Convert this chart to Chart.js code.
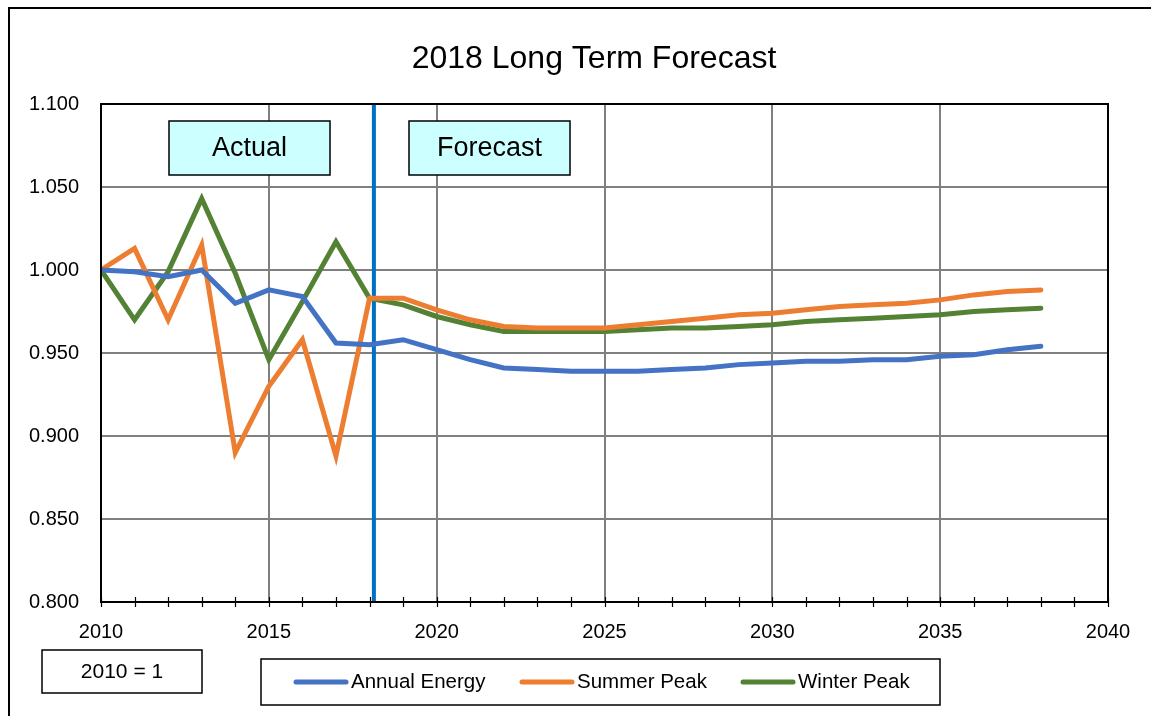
<!DOCTYPE html>
<html>
<head>
<meta charset="utf-8">
<script src="https://cdn.jsdelivr.net/npm/chart.js@4.4.1/dist/chart.umd.min.js"></script>
<style>
  html, body { margin: 0; padding: 0; background: #fff; }
  #wrap { width: 1151px; height: 716px; position: relative; }
</style>
</head>
<body>
<div id="wrap"><canvas id="chart" width="1151" height="716"></canvas></div>
<script>
// ── Data ───────────────────────────────────────────────────────
const years = [2010, 2011, 2012, 2013, 2014, 2015, 2016, 2017, 2018, 2019,
               2020, 2021, 2022, 2023, 2024, 2025, 2026, 2027, 2028, 2029,
               2030, 2031, 2032, 2033, 2034, 2035, 2036, 2037, 2038];

const annualEnergy = [1.000, 0.999, 0.996, 1.000, 0.980, 0.988, 0.984, 0.956, 0.955, 0.958,
                      0.952, 0.946, 0.941, 0.940, 0.939, 0.939, 0.939, 0.940, 0.941, 0.943,
                      0.944, 0.945, 0.945, 0.946, 0.946, 0.948, 0.949, 0.952, 0.954];

const summerPeak = [1.000, 1.013, 0.970, 1.015, 0.890, 0.930, 0.958, 0.888, 0.983, 0.983,
                    0.976, 0.970, 0.966, 0.965, 0.965, 0.965, 0.967, 0.969, 0.971, 0.973,
                    0.974, 0.976, 0.978, 0.979, 0.980, 0.982, 0.985, 0.987, 0.988];

const winterPeak = [1.000, 0.970, 0.999, 1.043, 0.998, 0.946, 0.981, 1.017, 0.983, 0.979,
                    0.972, 0.967, 0.963, 0.963, 0.963, 0.963, 0.964, 0.965, 0.965, 0.966,
                    0.967, 0.969, 0.970, 0.971, 0.972, 0.973, 0.975, 0.976, 0.977];

const seriesNames = ['Annual Energy', 'Summer Peak', 'Winter Peak'];
const seriesColors = ['#4472C4', '#ED7D31', '#548235'];

const forecastStart = 2018.13;   // blue divider between actual and forecast
const yTicks = [0.8, 0.85, 0.9, 0.95, 1.0, 1.05, 1.1];
const xMajor = [2010, 2015, 2020, 2025, 2030, 2035, 2040];

const FONT = '"Liberation Sans", Arial, sans-serif';

// ── Helpers ────────────────────────────────────────────────────
const toPoints = vals => years.map((yr, i) => ({ x: yr, y: vals[i] }));

function textBox(ctx, x, y, w, h, label, fill, size) {
  ctx.save();
  if (fill) { ctx.fillStyle = fill; ctx.fillRect(x, y, w, h); }
  ctx.strokeStyle = '#000';
  ctx.lineWidth = 1.5;
  ctx.strokeRect(x, y, w, h);
  if (label) {
    ctx.fillStyle = '#000';
    ctx.font = `${size}px ${FONT}`;
    ctx.textAlign = 'center';
    ctx.textBaseline = 'middle';
    ctx.fillText(label, x + w / 2, y + h / 2 + 1);
  }
  ctx.restore();
}

// ── Decorations plugin ─────────────────────────────────────────
const decorations = {
  id: 'decorations',
  beforeDraw(chart) {
    const { ctx } = chart;
    ctx.save();
    ctx.fillStyle = '#fff';
    ctx.fillRect(0, 0, chart.width, chart.height);
    ctx.strokeStyle = '#000';
    ctx.lineWidth = 2;
    ctx.strokeRect(9, 8, chart.width + 20, chart.height + 20);
    // title
    ctx.fillStyle = '#000';
    ctx.font = `32px ${FONT}`;
    ctx.textAlign = 'center';
    ctx.textBaseline = 'middle';
    ctx.fillText('2018 Long Term Forecast', 594, 59);
    ctx.restore();
  },
  afterDatasetsDraw(chart) {
    const { ctx, chartArea: a, scales: { x } } = chart;
    ctx.save();
    // plot frame
    ctx.strokeStyle = '#000';
    ctx.lineWidth = 2;
    ctx.strokeRect(a.left, a.top, a.right - a.left, a.bottom - a.top);
    // yearly ticks crossing the x axis
    ctx.lineWidth = 1.2;
    ctx.beginPath();
    for (let yr = x.min; yr <= x.max; yr++) {
      const px = Math.round(x.getPixelForValue(yr)) + 0.5;
      ctx.moveTo(px, a.bottom - 5);
      ctx.lineTo(px, a.bottom + 5);
    }
    ctx.stroke();
    ctx.restore();

    // Actual / Forecast labels
    textBox(ctx, 169, 121, 161, 54, 'Actual', '#CCFFFF', 27);
    textBox(ctx, 409, 121, 161, 54, 'Forecast', '#CCFFFF', 27);

    // base note
    textBox(ctx, 42, 650, 160, 43, '2010 = 1', null, 21);

    // legend
    textBox(ctx, 261, 659, 679, 46, null, null, 20);
    const starts = [296, 522, 743];
    ctx.save();
    ctx.font = `20.5px ${FONT}`;
    ctx.textBaseline = 'middle';
    ctx.textAlign = 'left';
    seriesNames.forEach((name, i) => {
      ctx.strokeStyle = seriesColors[i];
      ctx.lineWidth = 5;
      ctx.lineCap = 'round';
      ctx.beginPath();
      ctx.moveTo(starts[i], 682);
      ctx.lineTo(starts[i] + 50, 682);
      ctx.stroke();
      ctx.fillStyle = '#000';
      ctx.fillText(name, starts[i] + 55, 682);
    });
    ctx.restore();
  },
};

// ── Chart ──────────────────────────────────────────────────────
const datasets = seriesNames.map((name, i) => ({
  label: name,
  data: toPoints([annualEnergy, summerPeak, winterPeak][i]),
  borderColor: seriesColors[i],
  borderWidth: 5,
  pointRadius: 0,
  tension: 0,
  borderCapStyle: 'round',
  borderJoinStyle: 'miter',
}));

datasets.push({
  label: 'divider',
  data: [{ x: forecastStart, y: yTicks[0] }, { x: forecastStart, y: yTicks[yTicks.length - 1] }],
  borderColor: '#0070C0',
  borderWidth: 4,
  pointRadius: 0,
});

new Chart(document.getElementById('chart'), {
  type: 'line',
  data: { datasets },
  plugins: [decorations],
  options: {
    responsive: false,
    animation: false,
    layout: { padding: { top: 104, right: 43, bottom: 74, left: 0 } },
    plugins: { legend: { display: false }, tooltip: { enabled: false } },
    scales: {
      x: {
        type: 'linear',
        min: 2010,
        max: 2040,
        afterBuildTicks: s => { s.ticks = xMajor.map(v => ({ value: v })); },
        afterFit: s => { s.height = 40; },
        ticks: {
          color: '#000',
          font: { family: FONT, size: 20 },
          padding: 18,
          maxRotation: 0,
          autoSkip: false,
          callback: v => String(v),
        },
        grid: { color: '#808080', lineWidth: 2, drawTicks: false },
        border: { display: false },
      },
      y: {
        min: 0.8,
        max: 1.1,
        afterBuildTicks: s => { s.ticks = yTicks.map(v => ({ value: v })); },
        afterFit: s => { s.width = 101; },
        ticks: {
          color: '#000',
          font: { family: FONT, size: 20 },
          padding: 22,
          callback: v => v.toFixed(3),
        },
        grid: { color: '#808080', lineWidth: 2, drawTicks: false },
        border: { display: false },
      },
    },
  },
});
</script>
</body>
</html>
